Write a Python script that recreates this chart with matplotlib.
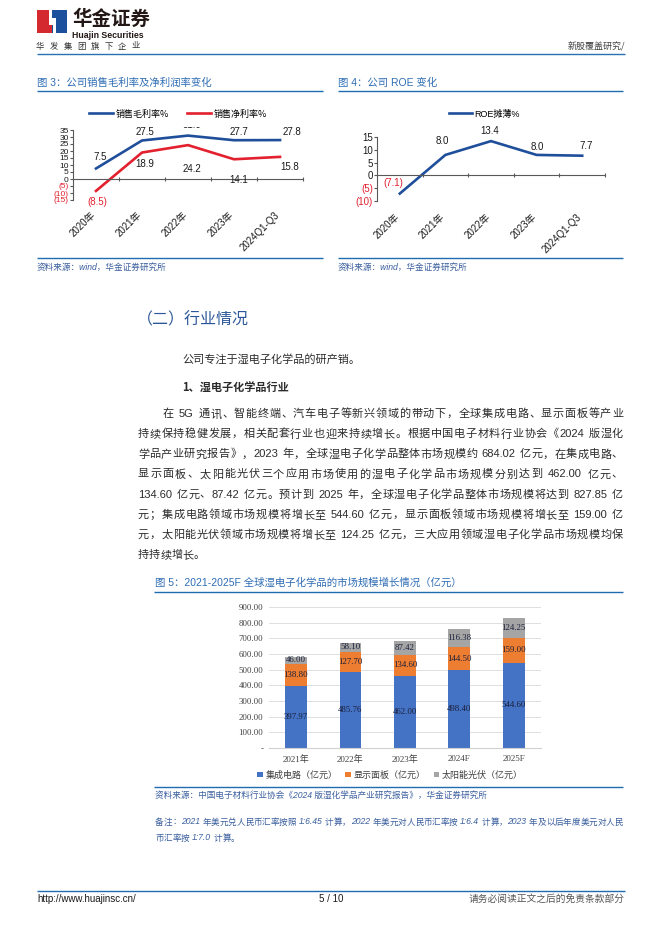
import re
import matplotlib
matplotlib.use('Agg')
import matplotlib.pyplot as plt
import matplotlib.transforms as mtrans
from matplotlib.patches import Rectangle, Polygon

plt.rcParams['font.family'] = ['Liberation Sans', 'Noto Sans CJK SC', 'DejaVu Sans']
plt.rcParams['axes.unicode_minus'] = False

# ---------------- data ----------------
years_a = ['2020年', '2021年', '2022年', '2023年', '2024Q1-Q3']
gross_margin = [7.5, 27.5, 31.0, 27.7, 27.8]
net_margin = [-8.5, 18.9, 24.2, 14.1, 15.8]
roe = [-7.1, 8.0, 13.4, 8.0, 7.7]

bar_years = ['2021年', '2022年', '2023年', '2024F', '2025F']
ic_vals = [397.97, 485.76, 462.00, 498.40, 544.60]
panel_vals = [138.80, 127.70, 134.60, 144.50, 159.00]
solar_vals = [46.00, 58.10, 87.42, 116.38, 124.25]
bar_names = ['集成电路（亿元）', '显示面板（亿元）', '太阳能光伏（亿元）']

body_lines = [
    '在 5G 通讯、智能终端、汽车电子等新兴领域的带动下，全球集成电路、显示面板等产业',
    '持续保持稳健发展，相关配套行业也迎来持续增长。根据中国电子材料行业协会《2024 版湿化',
    '学品产业研究报告》，2023 年，全球湿电子化学品整体市场规模约 684.02 亿元，在集成电路、',
    '显示面板、太阳能光伏三个应用市场使用的湿电子化学品市场规模分别达到 462.00 亿元、',
    '134.60 亿元、87.42 亿元。预计到 2025 年，全球湿电子化学品整体市场规模将达到 827.85 亿',
    '元；集成电路领域市场规模将增长至 544.60 亿元，显示面板领域市场规模将增长至 159.00 亿',
    '元，太阳能光伏领域市场规模将增长至 124.25 亿元，三大应用领域湿电子化学品市场规模均保',
    '持持续增长。',
]
note_lines = [
    '备注：2021 年美元兑人民币汇率按照 1:6.45 计算，2022 年美元对人民币汇率按 1:6.4 计算，2023 年及以后年度美元对人民',
    '币汇率按 1:7.0 计算。',
]

W, H = 662, 936
fig = plt.figure(figsize=(W / 100, H / 100), dpi=100)
page = fig.add_axes([0, 0, 1, 1])
page.set_xlim(0, W)
page.set_ylim(H, 0)
page.axis('off')
renderer = fig.canvas.get_renderer()

BLUE_T = '#2E6DB4'
BLUE_L = '#1F6CB0'
SRC = '#3A5F9E'
TXT = '#2b2b2b'
CJK = ['Noto Sans CJK SC', 'DejaVu Sans']


def add_ax(x0, y0, x1, y1):
    return fig.add_axes([x0 / W, 1 - y1 / H, (x1 - x0) / W, (y1 - y0) / H])


def hline(y, x0, x1, c=BLUE_L, lw=1.0):
    page.plot([x0, x1], [y, y], color=c, lw=lw, solid_capstyle='butt')


def jline(x0, x1, y, s, size, justify=True, **kw):
    tokens = re.findall(r'[A-Za-z0-9.:\-/%]+| |.', s)
    em = size * 100 / 72
    objs, widths = [], []
    for tk in tokens:
        if tk == ' ':
            objs.append(None)
            widths.append(em * 0.3)
            continue
        t = page.text(0, y, tk, fontsize=size, va='center', ha='left', **kw)
        if ord(tk[0]) > 0x2E80:
            widths.append(em)
        else:
            widths.append(t.get_window_extent(renderer).width)
        objs.append(t)
    gap = (x1 - x0 - sum(widths)) / (len(tokens) - 1) if justify else 0
    x = x0
    for t, w in zip(objs, widths):
        if t is not None:
            t.set_x(x)
        x += w + gap


# ---------------- header ----------------
page.add_patch(Rectangle((37, 10), 15, 23, color='#D42A2F', lw=0))
page.add_patch(Rectangle((52, 10), 15, 23, color='#1C4F9C', lw=0))
page.add_patch(Polygon([(49, 10), (52, 10), (52, 18), (56, 18), (56, 33), (53, 33),
                        (53, 25), (49, 25)], closed=True, color='white', lw=0))
page.text(72, 19, '华金证券', fontsize=14, fontweight='bold', color='#231815',
          va='center', ha='left', family=CJK)
page.text(72, 35, 'Huajin Securities', fontsize=6.3, fontweight='bold', color='#231815',
          va='center', ha='left')
jline(36, 140, 46, '华 发 集 团 旗 下 企 业', 6, color='#333333', family=CJK)
page.text(625, 47, '新股覆盖研究/', fontsize=6.5, color='#444444', ha='right', va='center',
          family=CJK)
hline(54, 37, 625, c='#2672B0')

# ---------------- fig 3 / fig 4 titles ----------------
page.text(37, 83, '图 3：公司销售毛利率及净利润率变化', fontsize=7.5, color=BLUE_T,
          va='center', ha='left')
hline(91, 37, 323)
page.text(338, 83, '图 4：公司 ROE 变化', fontsize=7.5, color=BLUE_T, va='center', ha='left')
hline(91, 338, 623)

hline(258, 37, 323)
page.text(37, 267, '资料来源：wind，华金证券研究所', fontsize=6.2, color=SRC, style='italic',
          va='center', ha='left')
hline(258, 338, 623)
page.text(338, 267, '资料来源：wind，华金证券研究所', fontsize=6.2, color=SRC, style='italic',
          va='center', ha='left')

NAVY = '#1F4E9A'
RED = '#E2202E'


def paren(v, fmt='{:.1f}'):
    return '(' + fmt.format(-v) + ')' if v < 0 else fmt.format(v)


def style_line_axes(ax, ticks, tsize):
    ax.spines['top'].set_visible(False)
    ax.spines['right'].set_visible(False)
    ax.spines['bottom'].set_position(('data', 0))
    for s in ('left', 'bottom'):
        ax.spines[s].set_color('#595959')
        ax.spines[s].set_linewidth(0.8)
    ax.set_facecolor('none')
    ax.set_xlim(-0.5, 4.5)
    ax.set_xticks([0.5, 1.5, 2.5, 3.5, 4.5])
    ax.set_xticklabels([])
    ax.tick_params(axis='x', length=3, direction='inout', color='#595959')
    ax.set_yticks(ticks)
    ax.set_yticklabels([paren(t, '{:d}') for t in ticks], fontsize=tsize)
    ax.tick_params(axis='y', length=2, pad=1, color='#595959')
    for lab, t in zip(ax.get_yticklabels(), ticks):
        lab.set_color(RED if t < 0 else '#1a1a1a')


def cat_labels(ax, labels, off_px, h_px):
    tr = mtrans.blended_transform_factory(ax.transData, ax.transAxes)
    for i, lab in enumerate(labels):
        ax.text(i + 0.03, -off_px / h_px, lab, transform=tr, rotation=45, ha='right', va='top',
                fontsize=7, color='#1a1a1a')


def point_label(ax, x, y, v, dx, dy, clip=None):
    t = ax.annotate(paren(v), (x, y), xytext=(dx * 0.72, dy * 0.72), textcoords='offset points',
                    ha='center', va='center', fontsize=7,
                    color=RED if v < 0 else '#1a1a1a', annotation_clip=False)
    if clip is not None:
        t.set_clip_path(clip)
    return t


# ---------------- fig 3 chart ----------------
ax1 = add_ax(73, 130, 303, 200)
xs = range(len(years_a))
l1, = ax1.plot(xs, gross_margin, color=NAVY, lw=1.9, solid_joinstyle='miter')
l2, = ax1.plot(xs, net_margin, color=RED, lw=1.9, solid_joinstyle='miter')
ax1.set_ylim(-15, 35)
style_line_axes(ax1, list(range(-15, 36, 5)), 6)
cat_labels(ax1, years_a, 10, 70)
clip_top = Rectangle((0, 0), 1, 1 - 127 / H, transform=fig.transFigure)
g_dx = [4, 3, 4, 5, 12]
g_dy = [11.5, 8.5, 11, 8.5, 8.5]
n_dx = [1, 3, 4, 5, 10]
n_dy = [-11, -11, -24, -21, -10]
for i in xs:
    point_label(ax1, i, gross_margin[i], gross_margin[i], g_dx[i], g_dy[i], clip=clip_top)
    point_label(ax1, i, net_margin[i], net_margin[i], n_dx[i], n_dy[i])
ax1.legend([l1, l2], ['销售毛利率%', '销售净利率%'], loc='center left',
           bbox_to_anchor=(89 / W, 1 - 114 / H), bbox_transform=fig.transFigure, ncol=2,
           frameon=False, handlelength=2.7, handletextpad=0.25, columnspacing=2.0,
           prop={'family': CJK, 'size': 6.5}, borderpad=0, borderaxespad=0)

# ---------------- fig 4 chart ----------------
ax2 = add_ax(377, 137, 605, 201)
l3, = ax2.plot(xs, roe, color=NAVY, lw=1.9, solid_joinstyle='miter')
ax2.set_ylim(-10, 15)
style_line_axes(ax2, list(range(-10, 16, 5)), 7)
cat_labels(ax2, years_a, 11, 64)
r_dx = [-6, -3, -1, 1, 4]
r_dy = [11, 14, 10, 7.5, 10]
for i in xs:
    point_label(ax2, i, roe[i], roe[i], r_dx[i], r_dy[i])
ax2.legend([l3], ['ROE摊薄%'], loc='center left',
           bbox_to_anchor=(449 / W, 1 - 114 / H), bbox_transform=fig.transFigure,
           frameon=False, handlelength=2.6, handletextpad=0.25,
           prop={'family': ['Liberation Sans', 'Noto Sans CJK SC'], 'size': 6.5},
           borderpad=0, borderaxespad=0)

# ---------------- text section ----------------
page.text(137, 320, '（二）行业情况', fontsize=11.5, color='#2B579A', va='center', ha='left',
          family=CJK)
page.text(182, 359, '公司专注于湿电子化学品的研产销。', fontsize=8, color=TXT, va='center',
          ha='left', family=CJK)
page.text(182, 387, '1、湿电子化学品行业', fontsize=8, fontweight='bold', color=TXT,
          va='center', ha='left', family=CJK)
for i, s in enumerate(body_lines):
    x0 = 163 if i == 0 else 138
    jline(x0, 623, 414 + 20.15 * i, s, 8, justify=(i < len(body_lines) - 1), color=TXT)

# ---------------- fig 5 ----------------
page.text(155, 583, '图 5：2021-2025F 全球湿电子化学品的市场规模增长情况（亿元）', fontsize=7.5,
          color=BLUE_T, va='center', ha='left')
hline(592, 154, 623)
hline(787, 154, 623)
page.text(155, 795, '资料来源：中国电子材料行业协会《2024 版湿化学品产业研究报告》，华金证券研究所',
          fontsize=6.2, color=SRC, style='italic', va='center', ha='left')
jline(155, 623, 822, note_lines[0], 6.2, color=SRC, style='italic')
jline(155, 623, 838, note_lines[1], 6.2, justify=False, color=SRC, style='italic')

SERIF = ['Liberation Serif', 'Noto Sans CJK SC']
ax3 = add_ax(268.75, 607, 541, 748)
bx = range(len(bar_years))
b1 = ax3.bar(bx, ic_vals, width=0.4, color='#4472C4')
b2 = ax3.bar(bx, panel_vals, width=0.4, bottom=ic_vals, color='#ED7D31')
bot3 = [a + b for a, b in zip(ic_vals, panel_vals)]
b3 = ax3.bar(bx, solar_vals, width=0.4, bottom=bot3, color='#A5A5A5')
for cont in (b1, b2, b3):
    ax3.bar_label(cont, labels=['{:.2f}'.format(v) for v in cont.datavalues],
                  label_type='center', fontsize=6.3, color='#1a1f3a', family=SERIF)
ax3.set_xlim(-0.5, 4.5)
ax3.set_ylim(0, 900)
ax3.set_yticks(range(0, 901, 100))
ax3.set_yticklabels(['-'] + ['{:.2f}'.format(v) for v in range(100, 901, 100)],
                    fontsize=6.3, color='#404040', family=SERIF)
ax3.set_xticks(list(bx))
ax3.set_xticklabels(bar_years, fontsize=6.5, color='#404040', family=SERIF)
ax3.tick_params(length=0, pad=4)
ax3.tick_params(axis='x', pad=5)
ax3.grid(axis='y', color='#D9D9D9', lw=0.6)
ax3.set_axisbelow(True)
for s in ('top', 'right', 'left'):
    ax3.spines[s].set_visible(False)
ax3.spines['bottom'].set_color('#D0D0D0')
ax3.legend([b1, b2, b3], bar_names, loc='center', bbox_to_anchor=(390 / W, 1 - 775 / H),
           bbox_transform=fig.transFigure, ncol=3, frameon=False, handlelength=0.6,
           handleheight=0.6, handletextpad=0.3, columnspacing=0.9,
           prop={'family': SERIF, 'size': 6.5}, borderpad=0, borderaxespad=0)
for t in ax3.get_legend().get_texts():
    t.set_color('#404040')

# ---------------- footer ----------------
hline(891, 37, 625)
page.text(37, 899, 'http://www.huajinsc.cn/', fontsize=7, color='#1a1a1a', va='center', ha='left')
page.text(331, 899, '5 / 10', fontsize=7, color='#1a1a1a', va='center', ha='center')
page.text(625, 899, '请务必阅读正文之后的免责条款部分', fontsize=7, color='#555555', va='center',
          ha='right', family=CJK)

fig.savefig('out.png', dpi=100)
